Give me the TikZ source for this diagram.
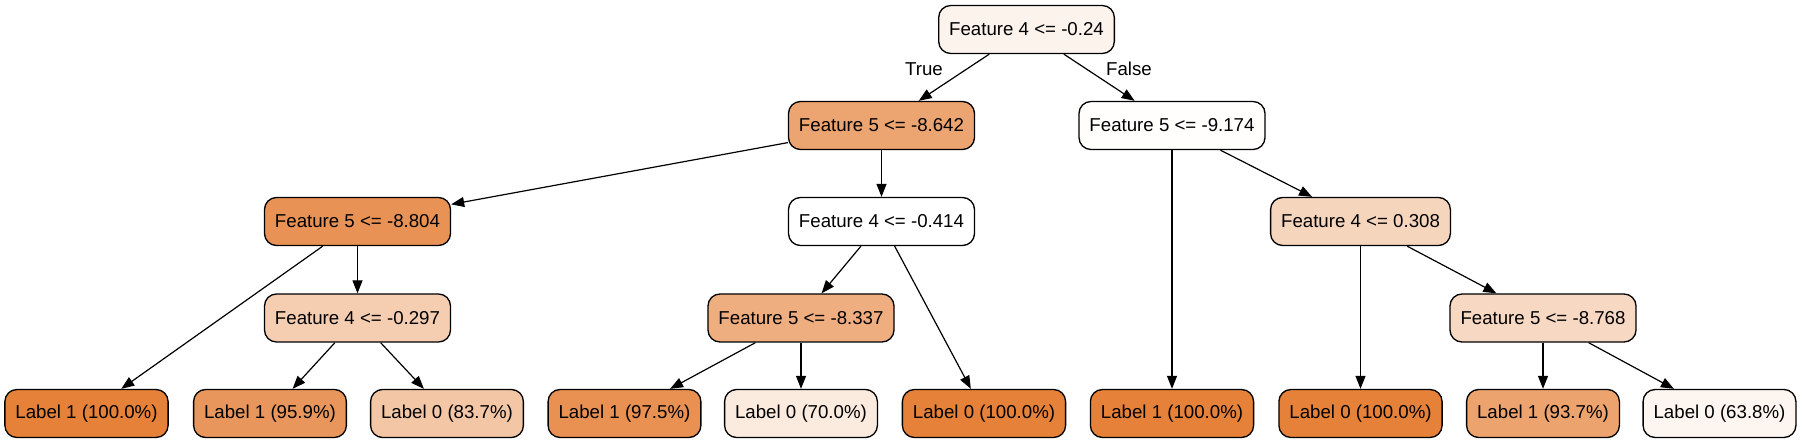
\documentclass[tikz,border=0pt]{standalone}
\usepackage{fontspec}
\setmainfont{Liberation Sans}
\usetikzlibrary{arrows.meta}

\definecolor{c100}{RGB}{229,129,57}
\definecolor{c975}{RGB}{232,145,83}
\definecolor{c959}{RGB}{233,150,92}
\definecolor{c937}{RGB}{236,163,110}
\definecolor{c837}{RGB}{243,198,165}
\definecolor{c700}{RGB}{251,234,222}
\definecolor{c638}{RGB}{253,245,239}
\definecolor{croot}{RGB}{252,243,236}
\definecolor{cb}{RGB}{236,164,112}
\definecolor{cd}{RGB}{232,146,85}
\definecolor{cg}{RGB}{245,206,178}
\definecolor{ch}{RGB}{239,174,128}
\definecolor{cf}{RGB}{246,213,189}
\definecolor{ci}{RGB}{247,216,195}
\definecolor{cc}{RGB}{255,254,253}

\begin{document}
\begin{tikzpicture}[x=1pt, y=-1pt,
  box/.style={draw, line width=1.33pt, rounded corners=12pt, minimum height=48pt, inner xsep=10.5pt,
    font=\fontsize{18.67}{22}\selectfont},
  edge/.style={line width=1.2pt, -{Triangle[length=13pt, width=10pt]}},
  tag/.style={font=\fontsize{18.67}{22}\selectfont}]
\useasboundingbox (0,0) rectangle (1802,443);

\node[box, fill=croot] (a) at (1026.5, 29.5) {Feature 4 <= -0.24};

\node[box, fill=cb] (b) at (881.5, 125.5) {Feature 5 <= -8.642};
\node[box, fill=cc] (c) at (1172, 125.5) {Feature 5 <= -9.174};

\node[box, fill=cd] (d) at (357.5, 221.5) {Feature 5 <= -8.804};
\node[box, fill=white] (e) at (881.5, 221.5) {Feature 4 <= -0.414};
\node[box, fill=cf] (f) at (1360.5, 221.5) {Feature 4 <= 0.308};

\node[box, fill=cg] (g) at (357.5, 318) {Feature 4 <= -0.297};
\node[box, fill=ch] (h) at (801, 318) {Feature 5 <= -8.337};
\node[box, fill=ci] (i) at (1543, 318) {Feature 5 <= -8.768};

\node[box, fill=c100] (j) at (86.5, 413.5) {Label 1 (100.0\%)};
\node[box, fill=c959] (k) at (270, 413.5) {Label 1 (95.9\%)};
\node[box, fill=c837] (l) at (447, 413.5) {Label 0 (83.7\%)};
\node[box, fill=c975] (m) at (624.5, 413.5) {Label 1 (97.5\%)};
\node[box, fill=c700] (n) at (801, 413.5) {Label 0 (70.0\%)};
\node[box, fill=c100] (o) at (984, 413.5) {Label 0 (100.0\%)};
\node[box, fill=c100] (p) at (1172, 413.5) {Label 1 (100.0\%)};
\node[box, fill=c100] (q) at (1360.5, 413.5) {Label 0 (100.0\%)};
\node[box, fill=c937] (r) at (1543, 413.5) {Label 1 (93.7\%)};
\node[box, fill=c638] (s) at (1719.5, 413.5) {Label 0 (63.8\%)};

\node[tag] (yes) at (924, 69) {True};
\node[tag] (no) at (1129, 69) {False};

\draw[edge] (a) -- (b);
\draw[edge] (a) -- (c);
\draw[edge] (b) -- (d);
\draw[edge] (b) -- (e);
\draw[edge] (c) -- (p);
\draw[edge] (c) -- (f);
\draw[edge] (d) -- (j);
\draw[edge] (d) -- (g);
\draw[edge] (g) -- (k);
\draw[edge] (g) -- (l);
\draw[edge] (e) -- (h);
\draw[edge] (e) -- (o);
\draw[edge] (h) -- (m);
\draw[edge] (h) -- (n);
\draw[edge] (f) -- (q);
\draw[edge] (f) -- (i);
\draw[edge] (i) -- (r);
\draw[edge] (i) -- (s);

\end{tikzpicture}
\end{document}
